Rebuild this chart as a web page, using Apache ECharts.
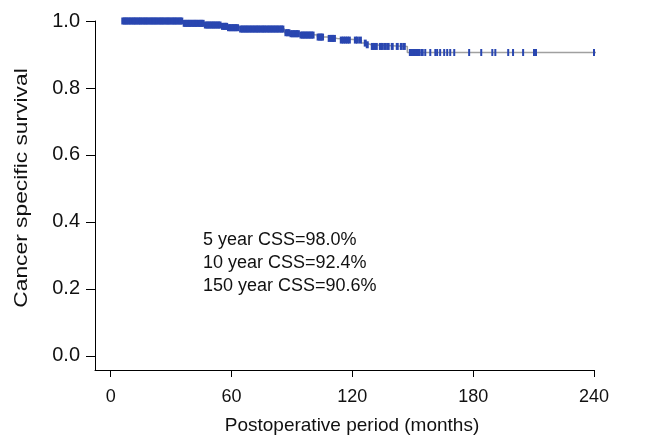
<!DOCTYPE html>
<html>
<head>
<meta charset="utf-8">
<script src="https://cdn.jsdelivr.net/npm/echarts@6/dist/echarts.min.js"></script>
<style>
html,body{margin:0;padding:0;background:#fff;}
#chart{width:658px;height:439px;}
</style>
</head>
<body>
<div id="chart"></div>
<script>
// ---- data ----
const xTicks = [0, 60, 120, 180, 240];
const yTicks = [0, 0.2, 0.4, 0.6, 0.8, 1.0];
const startTime = 5.5;
const endTime = 241.5;
const startSurvival = 1.0;
const eventTimes = [36, 46.5, 55, 58, 64, 86.3, 88.8, 93.7, 102.6, 107.6, 112.6, 124.5, 127, 129.4, 147.3];
const eventSurvival = [0.993, 0.988, 0.984, 0.980, 0.976, 0.965, 0.962, 0.958, 0.952, 0.948, 0.943, 0.934, 0.929, 0.924, 0.906];
const censorTimes = [6, 6.7, 7.4, 8, 8.8, 9.5, 10.2, 11, 11.6, 12.3, 13, 13.8, 14.5, 15.1, 15.9, 16.6, 17.3, 18, 18.7, 19.5, 20.2, 20.9, 21.6, 22.3, 23, 23.8, 24.5, 25.2, 25.9, 26.6, 27.4, 28.1, 28.8, 29.5, 30.3, 31, 31.7, 32.4, 33.1, 33.9, 34.6, 35.3, 36.5, 37.2, 38, 38.7, 39.4, 40.1, 40.9, 41.6, 42.3, 43, 43.8, 44.5, 45.2, 45.9, 47, 47.8, 48.5, 49.2, 50, 50.7, 51.4, 52.1, 52.9, 53.6, 54.3, 55.5, 56.3, 57, 57.6, 58.5, 59.3, 60, 60.8, 61.5, 62.2, 63, 64.5, 65.3, 66, 66.8, 67.5, 68.2, 69, 69.7, 70.5, 71.2, 72, 72.7, 73.4, 74.2, 75, 75.7, 76.4, 77.2, 78, 78.7, 79.5, 80.2, 81, 81.7, 82.5, 83.2, 84, 84.8, 85.5, 87, 87.8, 88.5, 89.5, 90.3, 91, 91.8, 92.5, 93.2, 94.5, 95.3, 96, 96.8, 97.5, 98.3, 99, 99.8, 100.5, 103, 103.8, 104.5, 105.2, 108.5, 109.6, 110.3, 111.1, 114.5, 115.5, 116.5, 117.5, 118.5, 121.5, 122.5, 124, 126.4, 127.4, 129.9, 130.8, 131.9, 133.9, 134.9, 136.4, 137.8, 139.8, 142.3, 144.3, 145.8, 148.8, 149.5, 150.2, 151, 151.7, 152.5, 153.2, 154.7, 156.2, 158.7, 161.2, 162.1, 163.6, 165.6, 167.1, 168.6, 170.6, 178, 184, 189.5, 191, 197.4, 199.8, 204.8, 210.2, 211.2, 240];
const annotationLines = ['5 year CSS=98.0%', '10 year CSS=92.4%', '150 year CSS=90.6%'];
const xTitle = 'Postoperative period (months)';
const yTitle = 'Cancer specific survival';

// ---- build series ----
const stepData = [[startTime, startSurvival]];
eventTimes.forEach((t, i) => stepData.push([t, eventSurvival[i]]));
stepData.push([endTime, eventSurvival[eventSurvival.length - 1]]);

function survivalAt(t) {
  let s = startSurvival;
  for (let i = 0; i < eventTimes.length; i++) {
    if (eventTimes[i] <= t) s = eventSurvival[i];
  }
  return s;
}
const censorData = censorTimes.map(t => [t, survivalAt(t)]);

const chart = echarts.init(document.getElementById('chart'));
const fontFamily = '"Liberation Sans", Arial, sans-serif';
const option = {
  animation: false,
  backgroundColor: '#ffffff',
  grid: { left: 95, right: 64, top: 21, bottom: 69 },
  xAxis: {
    type: 'value',
    min: -7.8,
    max: 240,
    splitLine: { show: false },
    axisLine: { show: true, onZero: false, lineStyle: { color: '#000', width: 1 } },
    axisTick: { show: true, customValues: xTicks, length: 7, lineStyle: { color: '#000' } },
    axisLabel: { customValues: xTicks, color: '#111', fontSize: 18, fontFamily: fontFamily, margin: 18 }
  },
  yAxis: {
    type: 'value',
    min: -0.042,
    max: 1.0,
    splitLine: { show: false },
    axisLine: { show: true, onZero: false, lineStyle: { color: '#000', width: 1 } },
    axisTick: { show: true, customValues: yTicks, length: 9, lineStyle: { color: '#000' } },
    axisLabel: { customValues: yTicks, color: '#111', fontSize: 20, fontFamily: fontFamily, margin: 15,
      formatter: v => v.toFixed(1) }
  },
  graphic: [
    { type: 'text', x: 352, y: 426, style: { text: xTitle, fontSize: 19, fontFamily: fontFamily, fill: '#111', textAlign: 'center', textVerticalAlign: 'middle' } },
    { type: 'text', rotation: Math.PI / 2, x: 22, y: 188, scaleX: 1.2, style: { text: yTitle, fontSize: 19, fontFamily: fontFamily, fill: '#111', textAlign: 'center', textVerticalAlign: 'middle' } },
    { type: 'text', x: 203, y: 229, style: { text: annotationLines.join('\n'), fontSize: 18, lineHeight: 23, fontFamily: fontFamily, fill: '#111' } }
  ],
  series: [
    {
      type: 'line',
      step: 'end',
      data: stepData,
      showSymbol: false,
      clip: false,
      lineStyle: { color: '#a0a0a0', width: 1.5 },
      z: 2
    },
    {
      type: 'scatter',
      data: censorData,
      symbol: 'rect',
      symbolSize: v => (v[0] < 155 ? [3, 7] : [2, 7]),
      clip: false,
      itemStyle: { color: '#2946b0', borderWidth: 0, opacity: 1 },
      z: 3
    }
  ]
};
chart.setOption(option);
</script>
</body>
</html>
